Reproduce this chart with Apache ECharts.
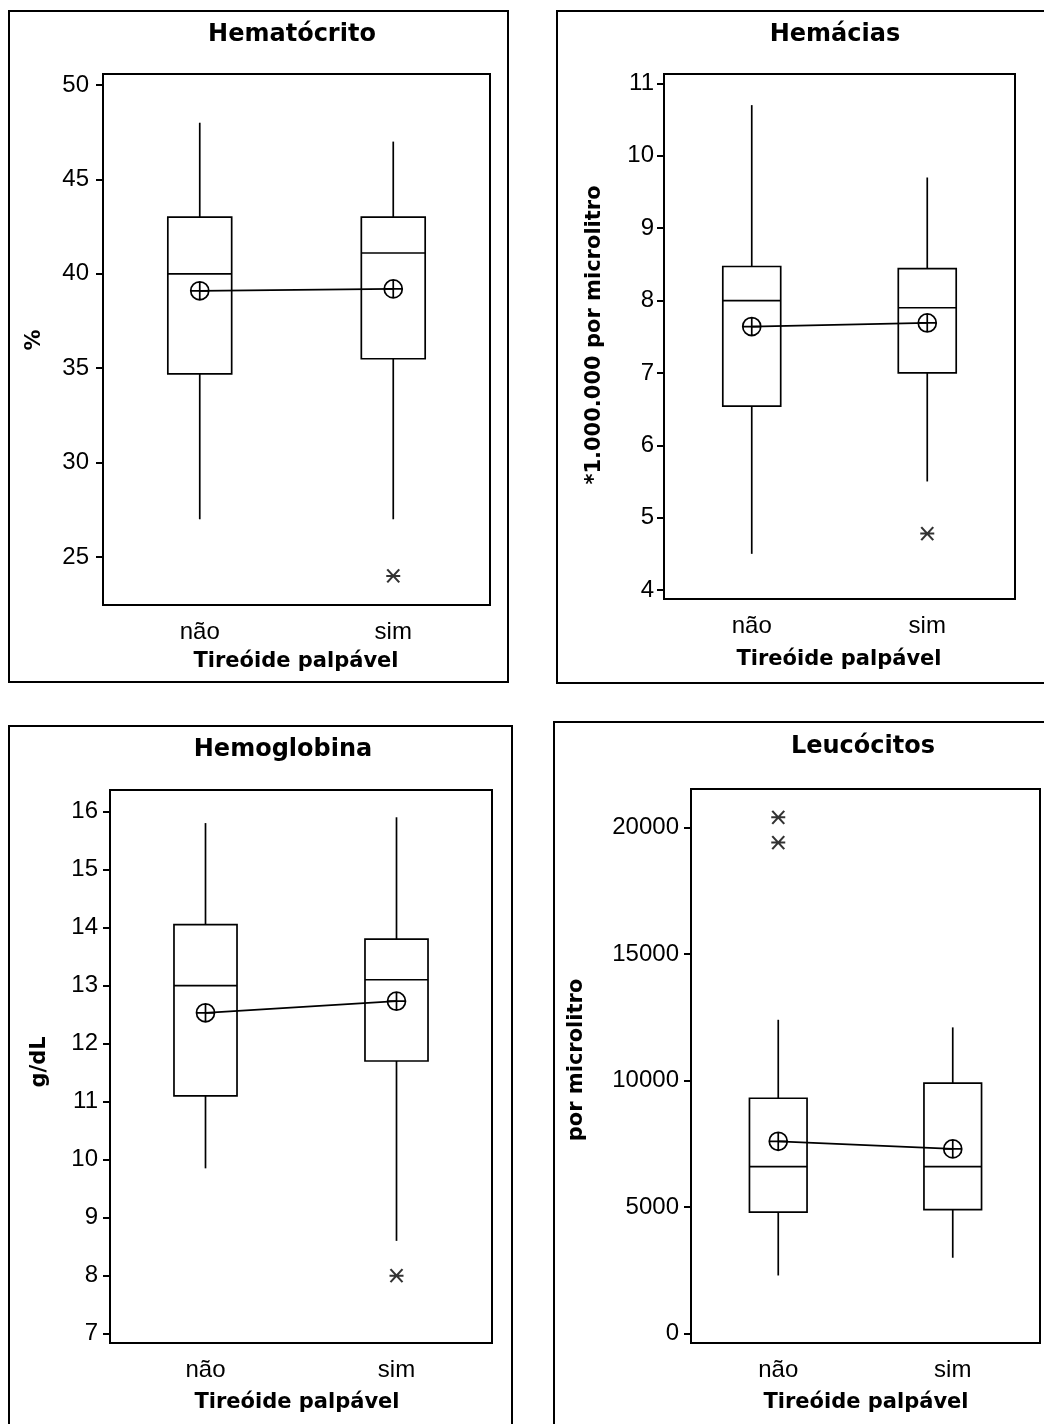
<!DOCTYPE html>
<html>
<head>
<meta charset="utf-8">
<title>Parâmetros hematológicos por tireóide palpável</title>
<script src="https://cdn.jsdelivr.net/npm/echarts@6/dist/echarts.min.js"></script>
<style>
  html, body { margin: 0; padding: 0; background: #fff; }
  #chart { width: 1044px; height: 1424px; }
</style>
</head>
<body>
<div id="chart"></div>
<script>
// Groups on every x axis
const groups = ['não', 'sim'];

// Box summaries per group: [lower whisker, Q1, median, Q3, upper whisker]
const hematocritoBox = [[27, 34.7, 40.0, 43.0, 48.0], [27, 35.5, 41.1, 43.0, 47.0]];
const hematocritoMean = [39.1, 39.2];
const hematocritoOutliers = [[1, 24]];
const hematocritoTicks = [25, 30, 35, 40, 45, 50];

const hemaciasBox = [[4.5, 6.54, 8.0, 8.47, 10.7], [5.5, 7.0, 7.9, 8.44, 9.7]];
const hemaciasMean = [7.64, 7.69];
const hemaciasOutliers = [[1, 4.78]];
const hemaciasTicks = [4, 5, 6, 7, 8, 9, 10, 11];

const hemoglobinaBox = [[9.85, 11.1, 13.0, 14.05, 15.8], [8.6, 11.7, 13.1, 13.8, 15.9]];
const hemoglobinaMean = [12.53, 12.73];
const hemoglobinaOutliers = [[1, 8.0]];
const hemoglobinaTicks = [7, 8, 9, 10, 11, 12, 13, 14, 15, 16];

const leucocitosBox = [[2300, 4800, 6600, 9300, 12400], [3000, 4900, 6600, 9900, 12100]];
const leucocitosMean = [7600, 7300];
const leucocitosOutliers = [[0, 20400], [0, 19400]];
const leucocitosTicks = [0, 5000, 10000, 15000, 20000];

const titles = ['Hematócrito', 'Hemácias', 'Hemoglobina', 'Leucócitos'];
const yNames = ['%', '*1.000.000 por microlitro', 'g/dL', 'por microlitro'];
const xName = 'Tireóide palpável';

// ---- layout ----
const panels = [
  { grid: { left: 103, top: 74, width: 387, height: 531 }, range: [22.46, 50.58],
    frame: [9, 11, 499, 671], title: [292, 35], yName: [35, 340], xName: [296, 662],
    box: hematocritoBox, mean: hematocritoMean, out: hematocritoOutliers, ticks: hematocritoTicks, labelMargin: 14 },
  { grid: { left: 664, top: 74, width: 351, height: 525 }, range: [3.876, 11.13],
    frame: [557, 11, 500, 672], title: [835, 35], yName: [595, 335], xName: [839, 660],
    box: hemaciasBox, mean: hemaciasMean, out: hemaciasOutliers, ticks: hemaciasTicks, labelMargin: 10 },
  { grid: { left: 110, top: 790, width: 382, height: 553 }, range: [6.84, 16.37],
    frame: [9, 726, 503, 720], title: [283, 750], yName: [40, 1062], xName: [297, 1403],
    box: hemoglobinaBox, mean: hemoglobinaMean, out: hemoglobinaOutliers, ticks: hemoglobinaTicks, labelMargin: 12 },
  { grid: { left: 691, top: 789, width: 349, height: 554 }, range: [-367, 21516],
    frame: [554, 722, 500, 720], title: [863, 747], yName: [577, 1060], xName: [866, 1403],
    box: leucocitosBox, mean: leucocitosMean, out: leucocitosOutliers, ticks: leucocitosTicks, labelMargin: 12 }
];

const BOX_RATIO = 0.33;
const LINE_W = 1.7;
const regular = 'Liberation Sans, Arial, sans-serif';
const bold = 'DejaVu Sans, Verdana, sans-serif';

// circle with a cross for the group means
const meanSymbol = 'path://M20,10A10,10,0,1,1,0,10A10,10,0,1,1,20,10Z M10,0L10,20 M0,10L20,10';
// asterisk for outliers
const starSymbol = 'path://M0,0L12,12 M0,12L12,0 M-1,6L13,6';

function renderBox(params, api) {
  const c = api.value(0);
  const lo = api.coord([c, api.value(1)]);
  const q1 = api.coord([c, api.value(2)]);
  const md = api.coord([c, api.value(3)]);
  const q3 = api.coord([c, api.value(4)]);
  const hi = api.coord([c, api.value(5)]);
  const half = api.size([1, 0])[0] * BOX_RATIO / 2;
  const x = q1[0];
  const st = { stroke: '#000', lineWidth: LINE_W, fill: null };
  return {
    type: 'group',
    children: [
      { type: 'line', shape: { x1: x, y1: hi[1], x2: x, y2: q3[1] }, style: st },
      { type: 'line', shape: { x1: x, y1: q1[1], x2: x, y2: lo[1] }, style: st },
      { type: 'rect', shape: { x: x - half, y: q3[1], width: half * 2, height: q1[1] - q3[1] },
        style: { stroke: '#000', lineWidth: LINE_W, fill: '#fff' } },
      { type: 'line', shape: { x1: x - half, y1: md[1], x2: x + half, y2: md[1] }, style: st }
    ]
  };
}

const grid = [], xAxis = [], yAxis = [], series = [], graphic = [];

panels.forEach((p, i) => {
  grid.push(Object.assign({ show: true, borderColor: '#000', borderWidth: 2, backgroundColor: 'transparent' }, p.grid));
  xAxis.push({
    type: 'category', gridIndex: i, data: groups, boundaryGap: true,
    axisLine: { onZero: false, lineStyle: { color: '#000', width: 2 } },
    axisTick: { alignWithLabel: true, length: 6, lineStyle: { color: '#000', width: 2 } },
    axisLabel: { color: '#000', fontFamily: regular, fontSize: 24, margin: 15 },
    splitLine: { show: false }
  });
  yAxis.push({
    type: 'value', gridIndex: i, min: p.range[0], max: p.range[1],
    axisLine: { show: true, onZero: false, lineStyle: { color: '#000', width: 2 } },
    axisTick: { show: true, length: 7, customValues: p.ticks, lineStyle: { color: '#000', width: 2 } },
    axisLabel: { color: '#000', fontFamily: regular, fontSize: 24, margin: p.labelMargin,
                 customValues: p.ticks, formatter: v => String(v) },
    splitLine: { show: false }
  });
  series.push({
    type: 'custom', xAxisIndex: i, yAxisIndex: i, silent: true,
    renderItem: renderBox,
    encode: { x: 0, y: [1, 2, 3, 4, 5] },
    data: p.box.map((b, k) => [k].concat(b)),
    z: 2
  });
  series.push({
    type: 'line', xAxisIndex: i, yAxisIndex: i, silent: true,
    data: p.mean,
    symbol: meanSymbol, symbolSize: 18, showSymbol: true,
    lineStyle: { color: '#000', width: LINE_W },
    itemStyle: { color: 'rgba(255,255,255,0)', borderColor: '#000', borderWidth: LINE_W },
    z: 3
  });
  series.push({
    type: 'scatter', xAxisIndex: i, yAxisIndex: i, silent: true,
    data: p.out,
    symbol: starSymbol, symbolSize: [14, 13],
    itemStyle: { color: 'rgba(255,255,255,0)', borderColor: '#000', borderWidth: 2 },
    z: 3
  });

  graphic.push({
    type: 'rect', silent: true,
    shape: { x: p.frame[0], y: p.frame[1], width: p.frame[2], height: p.frame[3] },
    style: { fill: null, stroke: '#000', lineWidth: 2 }
  });
  graphic.push({
    type: 'text', silent: true, x: p.title[0], y: p.title[1],
    style: { text: titles[i], fill: '#000', font: 'bold 24px ' + bold, align: 'center', verticalAlign: 'middle' }
  });
  graphic.push({
    type: 'text', silent: true, x: p.yName[0], y: p.yName[1], rotation: Math.PI / 2,
    style: { text: yNames[i], fill: '#000', font: 'bold 21px ' + bold, align: 'center', verticalAlign: 'middle' }
  });
  graphic.push({
    type: 'text', silent: true, x: p.xName[0], y: p.xName[1],
    style: { text: xName, fill: '#000', font: 'bold 21px ' + bold, align: 'center', verticalAlign: 'middle' }
  });
});

const chart = echarts.init(document.getElementById('chart'), null, { renderer: 'canvas' });
chart.setOption({
  backgroundColor: '#fff',
  animation: false,
  grid, xAxis, yAxis, series, graphic
});
</script>
</body>
</html>
